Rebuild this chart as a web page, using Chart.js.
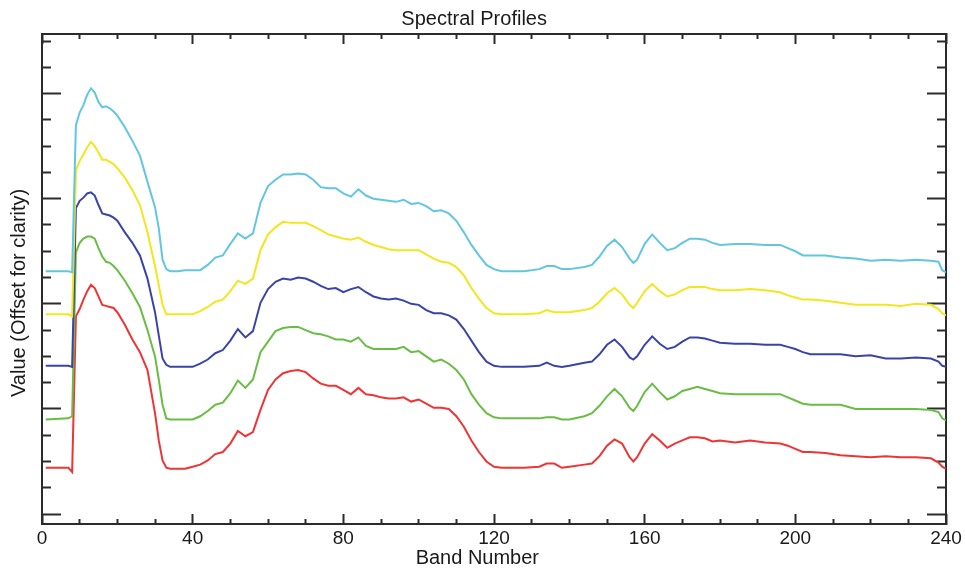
<!DOCTYPE html>
<html>
<head>
<meta charset="utf-8">
<title>Spectral Profiles</title>
<script src="https://cdn.jsdelivr.net/npm/chart.js@4.4.1/dist/chart.umd.min.js"></script>
<style>
  html, body { margin: 0; padding: 0; background: #fff; }
  #wrap { width: 965px; height: 573px; }
</style>
</head>
<body>
<div id="wrap"><canvas id="profileChart"></canvas></div>
<script>
// band numbers the profiles were read at
const bands = [1,7,8,9,10,11,12,13,14,15,
  16,17,18,19,20,22,24,26,28,30,
  31,32,33,34,36,38,40,42,44,46,
  48,50,52,54,56,58,60,62,64,66,
  68,70,72,74,76,78,80,82,84,86,
  88,90,92,94,96,98,100,102,104,106,
  108,110,112,114,116,118,120,122,124,128,
  132,134,136,138,140,144,146,148,150,152,
  154,156,157,158,160,162,164,166,168,170,
  172,174,176,178,180,184,188,192,196,198,
  200,202,204,208,212,216,220,224,228,232,
  236,238,239,240];

// values (already offset for clarity), top to bottom
const cyanProfile = [2.31,2.31,2.30,3.70,3.82,3.89,3.99,4.05,4.01,3.92,
  3.87,3.88,3.86,3.83,3.79,3.68,3.55,3.41,3.16,2.92,
  2.72,2.42,2.33,2.31,2.31,2.32,2.32,2.32,2.37,2.44,
  2.46,2.57,2.67,2.62,2.67,2.96,3.12,3.18,3.23,3.23,
  3.24,3.23,3.18,3.11,3.10,3.10,3.05,3.02,3.09,3.03,
  3.00,2.99,2.98,2.97,2.99,2.95,2.96,2.93,2.88,2.89,
  2.86,2.79,2.68,2.56,2.46,2.37,2.33,2.31,2.31,2.31,
  2.33,2.36,2.36,2.33,2.33,2.35,2.37,2.45,2.55,2.61,
  2.54,2.43,2.39,2.42,2.57,2.66,2.58,2.51,2.53,2.58,
  2.62,2.62,2.61,2.58,2.56,2.57,2.57,2.56,2.56,2.53,
  2.50,2.46,2.46,2.46,2.44,2.43,2.41,2.42,2.41,2.42,
  2.41,2.40,2.32,2.30];

const yellowProfile = [1.90,1.90,1.88,3.27,3.36,3.42,3.49,3.54,3.50,3.44,
  3.37,3.37,3.35,3.33,3.29,3.20,3.08,2.94,2.68,2.36,
  2.18,1.99,1.90,1.90,1.90,1.90,1.90,1.93,1.97,2.02,
  2.04,2.12,2.22,2.19,2.24,2.51,2.66,2.73,2.78,2.77,
  2.77,2.77,2.74,2.70,2.66,2.64,2.62,2.61,2.63,2.59,
  2.56,2.54,2.52,2.51,2.51,2.51,2.51,2.47,2.43,2.40,
  2.39,2.35,2.27,2.15,2.05,1.96,1.91,1.90,1.90,1.90,
  1.91,1.94,1.92,1.92,1.92,1.94,1.96,2.02,2.10,2.15,
  2.09,1.99,1.96,2.01,2.12,2.19,2.12,2.07,2.09,2.13,
  2.16,2.16,2.16,2.14,2.13,2.13,2.14,2.13,2.11,2.08,
  2.06,2.04,2.04,2.03,2.01,1.99,1.99,1.99,1.98,2.00,
  1.99,1.95,1.91,1.89];

const blueProfile = [1.41,1.41,1.40,2.91,2.98,3.01,3.05,3.06,3.03,2.94,
  2.86,2.85,2.84,2.82,2.79,2.68,2.58,2.46,2.24,1.92,
  1.70,1.48,1.42,1.40,1.40,1.40,1.40,1.43,1.47,1.53,
  1.56,1.65,1.76,1.68,1.74,2.01,2.14,2.21,2.24,2.23,
  2.25,2.24,2.21,2.17,2.14,2.15,2.11,2.14,2.16,2.11,
  2.07,2.05,2.04,2.05,2.03,2.00,1.99,1.94,1.91,1.91,
  1.89,1.85,1.76,1.65,1.54,1.45,1.41,1.40,1.40,1.40,
  1.41,1.44,1.41,1.40,1.41,1.44,1.45,1.52,1.61,1.66,
  1.59,1.49,1.47,1.50,1.61,1.69,1.62,1.57,1.59,1.64,
  1.68,1.68,1.67,1.65,1.63,1.62,1.62,1.61,1.61,1.59,
  1.57,1.54,1.52,1.52,1.52,1.50,1.51,1.48,1.48,1.49,
  1.48,1.45,1.41,1.40];

const greenProfile = [0.90,0.91,0.93,2.49,2.58,2.62,2.64,2.64,2.62,2.53,
  2.45,2.40,2.39,2.36,2.32,2.22,2.10,1.97,1.75,1.50,
  1.28,1.04,0.91,0.90,0.90,0.90,0.90,0.93,0.98,1.04,
  1.06,1.15,1.27,1.20,1.28,1.54,1.64,1.74,1.77,1.78,
  1.78,1.75,1.72,1.71,1.69,1.66,1.66,1.64,1.68,1.60,
  1.57,1.57,1.57,1.57,1.59,1.54,1.55,1.50,1.45,1.47,
  1.43,1.37,1.28,1.14,1.04,0.96,0.92,0.91,0.91,0.91,
  0.91,0.92,0.92,0.90,0.90,0.93,0.96,1.03,1.12,1.19,
  1.12,1.01,0.98,1.03,1.16,1.24,1.16,1.09,1.12,1.17,
  1.19,1.21,1.19,1.17,1.15,1.14,1.14,1.14,1.14,1.11,
  1.08,1.05,1.04,1.04,1.04,1.00,1.00,1.00,1.00,1.00,
  0.99,0.97,0.91,0.89];

const redProfile = [0.44,0.44,0.40,1.88,1.95,2.04,2.12,2.18,2.15,2.07,
  1.99,1.98,1.97,1.96,1.92,1.80,1.66,1.54,1.37,0.96,
  0.70,0.51,0.44,0.43,0.43,0.43,0.45,0.47,0.51,0.57,
  0.59,0.67,0.79,0.74,0.78,0.99,1.18,1.28,1.34,1.36,
  1.37,1.35,1.29,1.24,1.22,1.22,1.18,1.14,1.20,1.14,
  1.13,1.11,1.10,1.10,1.11,1.07,1.09,1.05,1.01,1.01,
  1.00,0.93,0.83,0.70,0.59,0.50,0.45,0.44,0.44,0.44,
  0.45,0.48,0.48,0.44,0.45,0.47,0.48,0.55,0.65,0.71,
  0.67,0.54,0.50,0.54,0.67,0.76,0.70,0.63,0.67,0.70,
  0.73,0.73,0.72,0.69,0.70,0.68,0.70,0.68,0.67,0.65,
  0.62,0.59,0.59,0.58,0.56,0.55,0.54,0.55,0.54,0.54,
  0.53,0.49,0.45,0.43];

// axis ticks
const xTicks = [0,10,20,30,40,50,60,70,80,90,100,110,120,130,140,150,160,170,180,190,200,210,220,230,240];
const xMajorTicks = [0,40,80,120,160,200,240];
const yTicks = [0,0.25,0.5,0.75,1,1.25,1.5,1.75,2,2.25,2.5,2.75,3,3.25,3.5,3.75,4,4.25,4.5];
const yMajorTicks = [0,1,2,3,4];

const axisColor = '#2b2b2b';
const fontFamily = "'Liberation Sans', Arial, sans-serif";

function toPoints(values) {
  return bands.map((b, i) => ({ x: b, y: values[i] }));
}

// tick marks point into the plot; minor ones are cut short with a dash
function tickGrid(isMajor, length, minorLength, startsInside) {
  return {
    drawOnChartArea: false,
    drawTicks: true,
    tickLength: -length,
    tickWidth: 2,
    tickColor: axisColor,
    tickBorderDash: ctx => isMajor(ctx.tick) ? [] : [minorLength, 1000],
    tickBorderDashOffset: ctx => (isMajor(ctx.tick) || !startsInside) ? 0 : 1000 + minorLength - (length + 1 - minorLength)
  };
}

const isMajorX = t => t && xMajorTicks.includes(t.value);
const isMajorY = t => t && yMajorTicks.includes(t.value);

// fixed box sizes so the plot frame lands where the original has it
function fixHeight(h) {
  return s => { s.height = h; s.paddingLeft = 0; s.paddingRight = 0; };
}
function fixWidth(w) {
  return s => { s.width = w; s.paddingTop = 0; s.paddingBottom = 0; };
}

const yMin = -0.095, yMax = 4.567;

const ctx = document.getElementById('profileChart').getContext('2d');

new Chart(ctx, {
  type: 'line',
  data: {
    datasets: [
      { label: 'Profile 1', data: toPoints(cyanProfile), borderColor: '#62c6e0' },
      { label: 'Profile 2', data: toPoints(yellowProfile), borderColor: '#f3e61e' },
      { label: 'Profile 3', data: toPoints(blueProfile), borderColor: '#3a44a8' },
      { label: 'Profile 4', data: toPoints(greenProfile), borderColor: '#69bd44' },
      { label: 'Profile 5', data: toPoints(redProfile), borderColor: '#ee3434' }
    ].map(d => Object.assign(d, { borderWidth: 2, pointRadius: 0, tension: 0, fill: false }))
  },
  options: {
    responsive: true,
    maintainAspectRatio: false,
    animation: false,
    layout: { padding: 0, autoPadding: false },
    plugins: {
      legend: { display: false },
      tooltip: { enabled: false },
      title: {
        display: true,
        // trailing spaces shift the centred text a little left, as in the original
        text: 'Spectral Profiles   ',
        color: '#1a1a1a',
        font: { family: fontFamily, size: 20, weight: 'normal' },
        padding: { top: 7.5, bottom: 2.5 }
      }
    },
    scales: {
      x: {
        type: 'linear',
        position: 'bottom',
        min: 0,
        max: 240,
        afterBuildTicks: s => { s.ticks = xTicks.map(v => ({ value: v })); },
        afterFit: fixHeight(49),
        ticks: {
          autoSkip: false,
          maxRotation: 0,
          padding: 13,
          color: '#1a1a1a',
          font: { family: fontFamily, size: 19 },
          callback: v => xMajorTicks.includes(v) ? String(v) : ''
        },
        grid: tickGrid(isMajorX, 10, 6, false),
        border: { display: true, color: axisColor, width: 2 },
        title: {
          display: true,
          text: 'Band Number      ',
          color: '#1a1a1a',
          font: { family: fontFamily, size: 20 },
          padding: { top: 0, bottom: 3 }
        }
      },
      x2: {
        type: 'linear',
        position: 'top',
        min: 0,
        max: 240,
        afterBuildTicks: s => { s.ticks = xTicks.map(v => ({ value: v })); },
        afterFit: fixHeight(0),
        ticks: { display: false, autoSkip: false },
        grid: tickGrid(isMajorX, 10, 6, true),
        border: { display: true, color: axisColor, width: 2 }
      },
      y: {
        type: 'linear',
        position: 'left',
        min: yMin,
        max: yMax,
        afterBuildTicks: s => { s.ticks = yTicks.map(v => ({ value: v })); },
        afterFit: fixWidth(42),
        ticks: { display: false, autoSkip: false },
        grid: tickGrid(isMajorY, 19, 10, true),
        border: { display: true, color: axisColor, width: 2 },
        title: {
          display: true,
          // trailing spaces nudge the rotated label down as in the original
          text: 'Value (Offset for clarity)     ',
          color: '#1a1a1a',
          font: { family: fontFamily, size: 20 },
          padding: { top: 7, bottom: 0 }
        }
      },
      y2: {
        type: 'linear',
        position: 'right',
        min: yMin,
        max: yMax,
        afterBuildTicks: s => { s.ticks = yTicks.map(v => ({ value: v })); },
        afterFit: fixWidth(19),
        ticks: { display: false, autoSkip: false },
        grid: tickGrid(isMajorY, 19, 10, false),
        border: { display: true, color: axisColor, width: 2 }
      }
    }
  }
});
</script>
</body>
</html>
